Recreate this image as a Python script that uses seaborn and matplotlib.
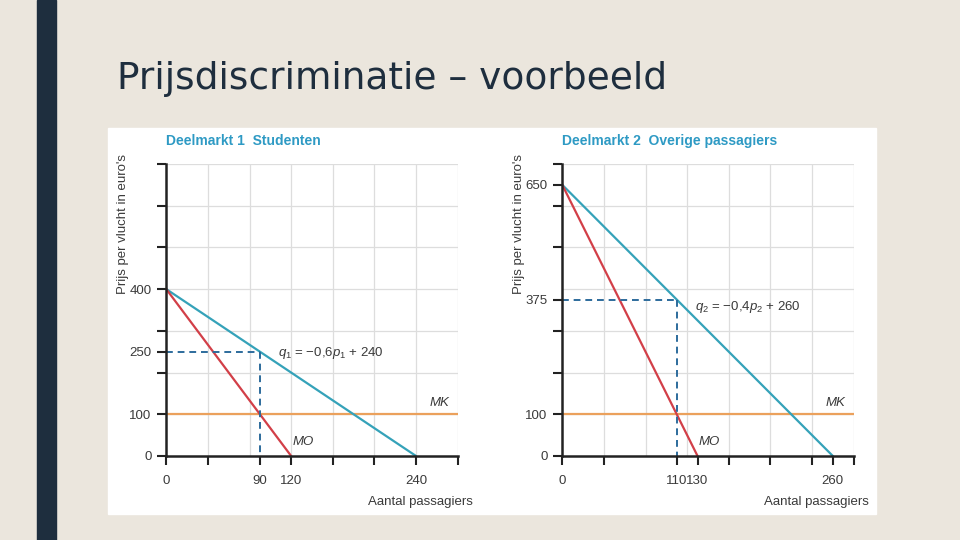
import numpy as np
import pandas as pd
import matplotlib.pyplot as plt
import seaborn as sns
from matplotlib.patches import Rectangle

# data
titles = ["Deelmarkt 1  Studenten", "Deelmarkt 2  Overige passagiers"]
demand_q = [[0, 240], [0, 260]]
demand_p = [[400, 0], [650, 0]]
mo_q = [[0, 120], [0, 130]]
mo_p = [[400, 0], [650, 0]]
mk_price = 100
opt_q = [90, 110]
opt_p = [250, 375]
formulas = [r"$q_1$ = −0,6$p_1$ + 240", r"$q_2$ = −0,4$p_2$ + 260"]
xticks = [[0, 40, 90, 120, 160, 200, 240, 280], [0, 40, 110, 130, 160, 200, 240, 260, 280]]
xticklabels = [["0", "", "90", "120", "", "", "240", ""],
               ["0", "", "110", "130", "", "", "", "260", ""]]
yticks = [[0, 100, 200, 250, 300, 400, 500, 600, 700], [0, 100, 200, 300, 375, 500, 600, 650, 700]]
yticklabels = [["0", "100", "", "250", "", "400", "", "", ""],
               ["0", "100", "", "", "375", "", "", "650", ""]]
grid_q = [40, 80, 120, 160, 200, 240, 280]
grid_p = [100, 200, 300, 400, 500, 600, 700]

sns.set_style("white")
font = ["Liberation Sans", "DejaVu Sans"]
plt.rcParams["font.family"] = font
plt.rcParams["mathtext.fontset"] = "custom"
plt.rcParams["mathtext.rm"] = "Liberation Sans"
plt.rcParams["mathtext.it"] = "Liberation Sans:italic"

bg = "#ebe6dd"
teal = "#35a2b9"
red = "#d23f48"
orange = "#eba15c"
dash = "#2d6b9c"
txt = "#3a3a3a"

fig = plt.figure(figsize=(9.6, 5.4), dpi=100, facecolor=bg)
# background decoration in its own axes behind the charts
bgax = fig.add_axes([0, 0, 1, 1], zorder=-10)
bgax.set_axis_off()
bgax.set_xlim(0, 1)
bgax.set_ylim(0, 1)
bgax.add_patch(Rectangle((0.0385, 0), 0.0200, 1, color="#1e2e3e"))
bgax.add_patch(Rectangle((0.1125, 0.0481), 0.8, 0.7148, color="white"))
bgax.text(0.122, 0.835, "Prijsdiscriminatie – voorbeeld", fontsize=27, color="#1e2e3e",
          family=["DejaVu Sans"], va="baseline", ha="left")

lefts = [0.1732, 0.5857]
for i in range(2):
    ax = fig.add_axes([lefts[i], 0.1556, 0.3035, 0.5407])
    ax.set_facecolor("none")
    for g in grid_q:
        ax.axvline(g, color="#dddddd", lw=0.9, zorder=1)
    for g in grid_p:
        ax.axhline(g, color="#dddddd", lw=0.9, zorder=1)
    df_d = pd.DataFrame({"q": demand_q[i], "p": demand_p[i]})
    df_m = pd.DataFrame({"q": mo_q[i], "p": mo_p[i]})
    sns.lineplot(data=df_d, x="q", y="p", ax=ax, color=teal, lw=1.6, zorder=4)
    sns.lineplot(data=df_m, x="q", y="p", ax=ax, color=red, lw=1.6, zorder=4)
    ax.axhline(mk_price, color=orange, lw=1.6, zorder=3)
    ax.plot([0, opt_q[i]], [opt_p[i], opt_p[i]], color=dash, lw=1.4, ls=(0, (3.5, 2.5)), zorder=5)
    ax.plot([opt_q[i], opt_q[i]], [opt_p[i], 0], color=dash, lw=1.4, ls=(0, (3.5, 2.5)), zorder=5)

    ax.set_xlim(0, 280)
    ax.set_ylim(0, 700)
    ax.set_xticks(xticks[i])
    ax.set_xticklabels(xticklabels[i])
    ax.set_yticks(yticks[i])
    ax.set_yticklabels(yticklabels[i])
    ax.tick_params(bottom=True, left=True, length=6.5, width=1.5, color="#222222", labelsize=9.5,
                   labelcolor=txt, direction="out", pad=4)
    ax.tick_params(axis="x", pad=7)
    for s in ["left", "bottom"]:
        ax.spines[s].set_color("#222222")
        ax.spines[s].set_linewidth(1.8)
        ax.spines[s].set_zorder(6)
    for s in ["top", "right"]:
        ax.spines[s].set_visible(False)
    ax.set_xlabel("")
    ax.set_ylabel("")

    ax.text(0, 1.079, titles[i], transform=ax.transAxes, fontsize=10, fontweight="bold",
            color="#2e9ac4", ha="left", va="center")
    ax.text(1.053, -0.157, "Aantal passagiers", transform=ax.transAxes, fontsize=9.5,
            color=txt, ha="right", va="center")
    ax.text(-0.15, 0.795, "Prijs per vlucht in euro's", transform=ax.transAxes, fontsize=9.5,
            color=txt, ha="center", va="center", rotation=90)
    fx = [107, 127.5][i]
    fy = [248, 357][i]
    ax.text(fx, fy, formulas[i], fontsize=9.5, color=txt, ha="left", va="center")
    ax.text(253, 128, "MK", fontsize=9.5, style="italic", color=txt, ha="left", va="center")
    ax.text(mo_q[i][1] + 1, 34, "MO", fontsize=9.5, style="italic", color=txt, ha="left", va="center")

fig.savefig("out.png", dpi=100, facecolor=bg)
